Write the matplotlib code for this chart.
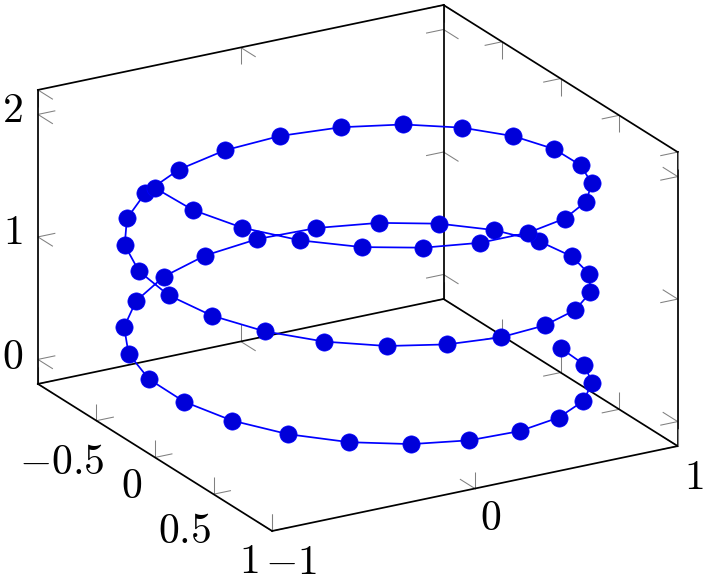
import matplotlib
matplotlib.use("Agg")
import matplotlib.pyplot as plt
from mpl_toolkits.mplot3d import proj3d

plt.rcParams['mathtext.fontset'] = 'cm'

x_values = [1.000, 0.965, 0.862, 0.698, 0.485, 0.237, -0.027, -0.289, -0.531, -0.735,
            -0.887, -0.977, -0.999, -0.949, -0.833, -0.659, -0.437, -0.185, 0.080, 0.339,
            0.575, 0.770, 0.911, 0.987, 0.994, 0.931, 0.803, 0.618, 0.389, 0.132,
            -0.132, -0.389, -0.618, -0.803, -0.931, -0.994, -0.987, -0.911, -0.770, -0.575,
            -0.339, -0.080, 0.185, 0.437, 0.659, 0.833, 0.949, 0.999, 0.977, 0.887,
            0.735, 0.531, 0.289, 0.027, -0.237, -0.485, -0.698, -0.862, -0.965, -1.000]
y_values = [0.000, 0.263, 0.508, 0.717, 0.875, 0.971, 1.000, 0.957, 0.848, 0.678,
            0.461, 0.211, -0.053, -0.314, -0.553, -0.752, -0.899, -0.983, -0.997, -0.941,
            -0.818, -0.638, -0.413, -0.159, 0.106, 0.364, 0.596, 0.786, 0.921, 0.991,
            0.991, 0.921, 0.786, 0.596, 0.364, 0.106, -0.159, -0.413, -0.638, -0.818,
            -0.941, -0.997, -0.983, -0.899, -0.752, -0.553, -0.314, -0.053, 0.211, 0.461,
            0.678, 0.848, 0.957, 1.000, 0.971, 0.875, 0.717, 0.508, 0.263, 0.000]
z_values = [0.000, 0.034, 0.068, 0.102, 0.136, 0.169, 0.203, 0.237, 0.271, 0.305,
            0.339, 0.373, 0.407, 0.441, 0.475, 0.508, 0.542, 0.576, 0.610, 0.644,
            0.678, 0.712, 0.746, 0.780, 0.814, 0.847, 0.881, 0.915, 0.949, 0.983,
            1.017, 1.051, 1.085, 1.119, 1.153, 1.186, 1.220, 1.254, 1.288, 1.322,
            1.356, 1.390, 1.424, 1.458, 1.492, 1.525, 1.559, 1.593, 1.627, 1.661,
            1.695, 1.729, 1.763, 1.797, 1.831, 1.864, 1.898, 1.932, 1.966, 2.000]

x_ticks = [-1, 0, 1]
y_ticks = [-1, -0.5, 0, 0.5, 1]
z_ticks = [0, 1, 2]
x_tick_labels = ['$-1$', '$0$', '$1$']
y_tick_labels = ['$-0.5$', '$0$', '$0.5$', '$1$']
y_labelled_ticks = [-0.5, 0, 0.5, 1]
z_tick_labels = ['$0$', '$1$', '$2$']
x_label_offsets = [(19, -31.5), (16, -29.5), (16, -30.5)]
y_label_offsets = [(-35, -41.5), (-23.5, -29), (-29, -36.5), (-23, -30)]
z_label_offsets = [(-25, 2.5), (-25, 5), (-25.5, 4.5)]

xlim = (-1, 1)
ylim = (1, -1)
zlim = (-0.2, 2.2)

W, H = 706, 582
fig = plt.figure(figsize=(W / 100, H / 100), dpi=100)
ax = fig.add_axes([0, 0, 1, 1], projection='3d', proj_type='ortho', computed_zorder=False)
ax.view_init(elev=21.26, azim=-120)
ax.set_box_aspect((2 * 234.2, 2 * 234.2, 2.4 * 131.45))
ax.set_axis_off()

GRAY = '#808080'
x0, x1 = -1, 1
y0, y1 = -1, 1
z0, z1 = zlim


def seg(a, b, color='black', lw=1.25, z=2):
    ax.plot([a[0], b[0]], [a[1], b[1]], [a[2], b[2]], color=color, lw=lw, zorder=z,
            clip_on=False, solid_capstyle='projecting' if color == 'black' else 'butt')


# box edges
for a, b in [((x0, y0, z0), (x0, y0, z1)), ((x1, y0, z0), (x1, y0, z1)), ((x1, y1, z0), (x1, y1, z1)),
             ((x0, y0, z1), (x1, y0, z1)), ((x1, y0, z1), (x1, y1, z1)),
             ((x0, y0, z0), (x1, y0, z0)), ((x1, y0, z0), (x1, y1, z0)),
             ((x0, y0, z0), (x0, y1, z0)), ((x0, y1, z0), (x1, y1, z0))]:
    seg(a, b)

# tick marks on the visible walls
LX, LY, LZ = 0.086, 0.128, 0.139


def tick(p, dx=0, dy=0, dz=0, z=1):
    seg(p, (p[0] + dx, p[1] + dy, p[2] + dz), color=GRAY, lw=0.75, z=z)


for v in y_ticks:
    tick((x0, v, z0), dz=LZ); tick((x0, v, z0), dx=LX)
    tick((x1, v, z0), dz=LZ, z=3 if v == 1 else 1); tick((x1, v, z0), dx=-LX)
    tick((x1, v, z1), dz=-LZ, z=3 if v == 1 else 1); tick((x1, v, z1), dx=-LX)
for v in x_ticks:
    tick((v, y1, z0), dz=LZ, z=3 if v == 1 else 1); tick((v, y1, z0), dy=-LY)
    tick((v, y0, z0), dz=LZ); tick((v, y0, z0), dy=LY)
    tick((v, y0, z1), dz=-LZ); tick((v, y0, z1), dy=LY)
for v in z_ticks:
    tick((x0, y0, v), dx=LX); tick((x0, y0, v), dy=LY)
    tick((x1, y0, v), dx=-LX); tick((x1, y0, v), dy=LY)
    tick((x1, y1, v), dx=-LX); tick((x1, y1, v), dy=-LY)

ax.plot(x_values, y_values, z_values, color=(0, 0, 1), lw=1.25, marker='o', ms=12.4,
        mfc=(0, 0, 0.85), mec=(0, 0, 1), mew=0.5, zorder=5, clip_on=False)

ax.set_xlim(*xlim, view_margin=0)
ax.set_ylim(*ylim, view_margin=0)
ax.set_zlim(*zlim, view_margin=0)


def to_pixels(p):
    xp, yp, _ = proj3d.proj_transform(p[0], p[1], p[2], ax.get_proj())
    return ax.transData.transform((xp, yp))


# fit the square 3D axes so the box corners land where the reference has them
target_a = (37.9, H - 384.0)
target_b = (677.7, H - 152.0)
corner_a = (x0, y0, z0)
corner_b = (x1, y1, z1)
size, left, bottom = float(H), (W - H) / 2, 0.0
for _ in range(3):
    ax.set_position([left / W, bottom / H, size / W, size / H])
    fig.canvas.draw()
    pa, pb = to_pixels(corner_a), to_pixels(corner_b)
    scale = (target_b[0] - target_a[0]) / (pb[0] - pa[0])
    cx = (left + size / 2) + (target_a[0] + target_b[0]) / 2 - (pa[0] + pb[0]) / 2
    cy = (bottom + size / 2) + (target_a[1] + target_b[1]) / 2 - (pa[1] + pb[1]) / 2
    size *= scale
    left, bottom = cx - size / 2, cy - size / 2
ax.set_position([left / W, bottom / H, size / W, size / H])
fig.canvas.draw()


def label(p, text, off):
    xp, yp, _ = proj3d.proj_transform(p[0], p[1], p[2], ax.get_proj())
    ax.annotate(text, xy=(xp, yp), xycoords='data', xytext=off, textcoords='offset pixels',
                ha='center', va='center', fontsize=30, color='black', annotation_clip=False)


for v, t, o in zip(x_ticks, x_tick_labels, x_label_offsets):
    label((v, y1, z0), t, o)
for v, t, o in zip(y_labelled_ticks, y_tick_labels, y_label_offsets):
    label((x0, v, z0), t, o)
for v, t, o in zip(z_ticks, z_tick_labels, z_label_offsets):
    label((x0, y0, v), t, o)

fig.savefig('out.png', dpi=100)
